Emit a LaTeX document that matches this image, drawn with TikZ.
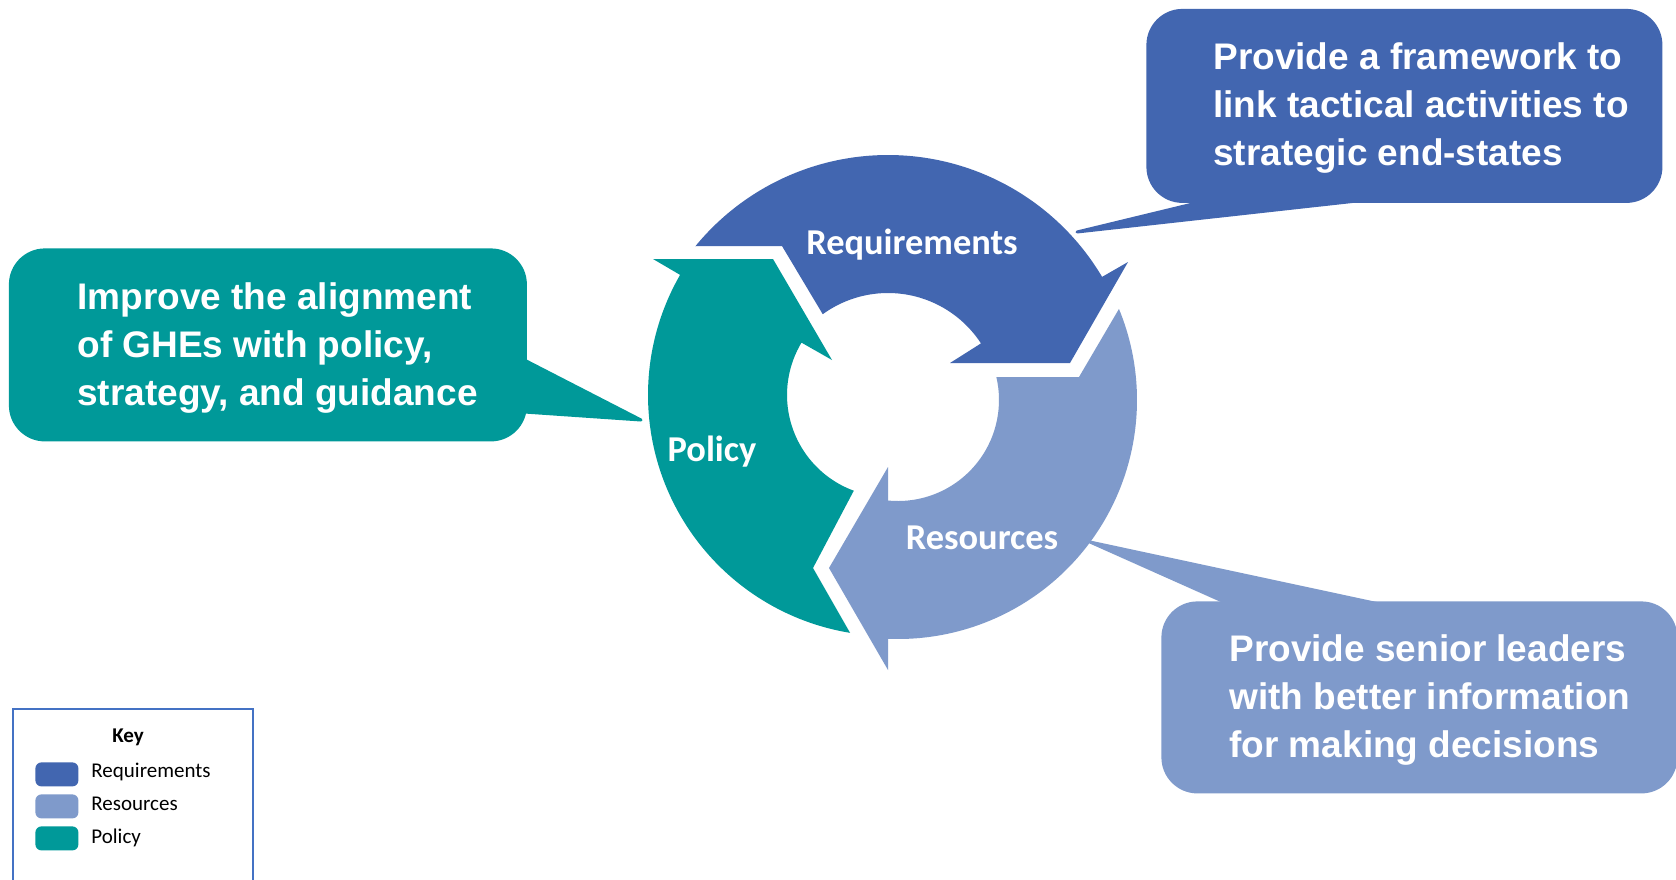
\documentclass[tikz,border=0pt]{standalone}
\usepackage{fontspec}
\setmainfont{Liberation Sans}
\newfontfamily\cali{Carlito}
\usetikzlibrary{calc}
\definecolor{reqc}{HTML}{4266B0}
\definecolor{resc}{HTML}{7F9ACB}
\definecolor{polc}{HTML}{009999}
\definecolor{keyb}{HTML}{4472C4}
\begin{document}
\begin{tikzpicture}[x=0.5pt,y=-0.5pt,
  lbl/.style={text=white,font=\cali\bfseries\fontsize{18.2}{21}\selectfont,inner sep=0pt,anchor=base},
  ctext/.style={text=white,font=\bfseries\fontsize{18.5}{23.8}\selectfont,align=left,inner sep=0pt,anchor=west},
  callout/.style={rounded corners=18pt,inner sep=0pt,anchor=north west,minimum width=258pt,minimum height=97pt},
  pointer/.style={line join=round,line width=1.5pt},
  swatch/.style={rounded corners=3pt,inner sep=0pt,anchor=north west,minimum width=21.5pt,minimum height=12pt},
  keytext/.style={font=\cali\fontsize{10.5}{12}\selectfont,inner sep=0pt,anchor=base west}
]
\useasboundingbox (0,0) rectangle (1676,879);
\fill[white] (0,0) rectangle (1676,879);

% centres of the three circular arrows
\coordinate (CR) at (888,404);
\coordinate (CS) at (898,400);
\coordinate (CP) at (889,395);

% Requirements arrow
\fill[reqc] (695,246) -- (782,246) -- ($(CR)+(126:55.5pt)$)
  arc[start angle=126,end angle=33.1,radius=55.5pt]
  -- (950,363) -- (1070,363) -- (1128,262)
  -- ($(CR)+(30.7:124.5pt)$) arc[start angle=30.7,end angle=140.7,radius=124.5pt] -- cycle;

% Resources arrow
\fill[resc] ($(CS)+(13.1:50.5pt)$) -- (1079,377) -- ($(CS)+(22.4:119.5pt)$)
  arc[start angle=22.4,end angle=-92.4,radius=119.5pt]
  -- (888,670) -- (829,568) -- (888,467)
  -- ($(CS)+(-95.6:50.5pt)$) arc[start angle=-95.6,end angle=13.1,radius=50.5pt] -- cycle;

% Policy arrow
\fill[polc] ($(CP)+(260.7:120.5pt)$) -- (813,568) -- ($(CP)+(249.8:51pt)$)
  arc[start angle=249.8,end angle=149.1,radius=51pt]
  -- (832,360) -- (773,259) -- (653,259)
  -- ($(CP)+(150.1:120.5pt)$) arc[start angle=150.1,end angle=260.7,radius=120.5pt] -- cycle;

\node[lbl] (lreq) at (912,254) {Requirements};
\node[lbl] (lres) at (982,549) {Resources};
\node[lbl] (lpol) at (712,461) {Policy};

% callouts
\coordinate (tipR) at (1077,232);
\coordinate (tipP) at (641,420);
\coordinate (tipS) at (1090,542);

\node[callout,fill=reqc] (cR) at (1146,8.5) {};
\filldraw[reqc,pointer] ($(cR.south west)+(62,-3)$) -- (tipR) -- ($(cR.south west)+(217,-3)$) -- cycle;
\node[ctext] (tR) at (1213,108) {Provide a framework to\\link tactical activities to\\strategic end-states};

\node[callout,fill=polc,minimum width=259pt,minimum height=96.5pt] (cP) at (8.5,248) {};
\filldraw[polc,pointer] ($(cP.north east)+(-3,112)$) -- (tipP) -- ($(cP.north east)+(-3,164)$) -- cycle;
\node[ctext] (tP) at (77,348) {Improve the alignment\\of GHEs with policy,\\strategy, and guidance};

\node[callout,fill=resc,minimum width=258pt,minimum height=96pt] (cS) at (1161,601) {};
\filldraw[resc,pointer] ($(cS.north west)+(68,3)$) -- (tipS) -- ($(cS.north west)+(218,3)$) -- cycle;
\node[ctext] (tS) at (1229,700) {Provide senior leaders\\with better information\\for making decisions};

% key
\node[draw=keyb,line width=1pt,inner sep=0pt,anchor=north west,minimum width=120pt,minimum height=100pt] (key) at (12,708) {};
\node[font=\cali\bfseries\fontsize{10.5}{12}\selectfont,inner sep=0pt,anchor=base] (keyt) at (128,742) {Key};
\node[swatch,fill=reqc] (kq) at (35,762) {};
\node[swatch,fill=resc] (ks) at (35,794) {};
\node[swatch,fill=polc] (kp) at (35,826) {};
\node[keytext] (kqt) at (91,777) {Requirements};
\node[keytext] (kst) at (91,810) {Resources};
\node[keytext] (kpt) at (91,843) {Policy};
\end{tikzpicture}
\end{document}
